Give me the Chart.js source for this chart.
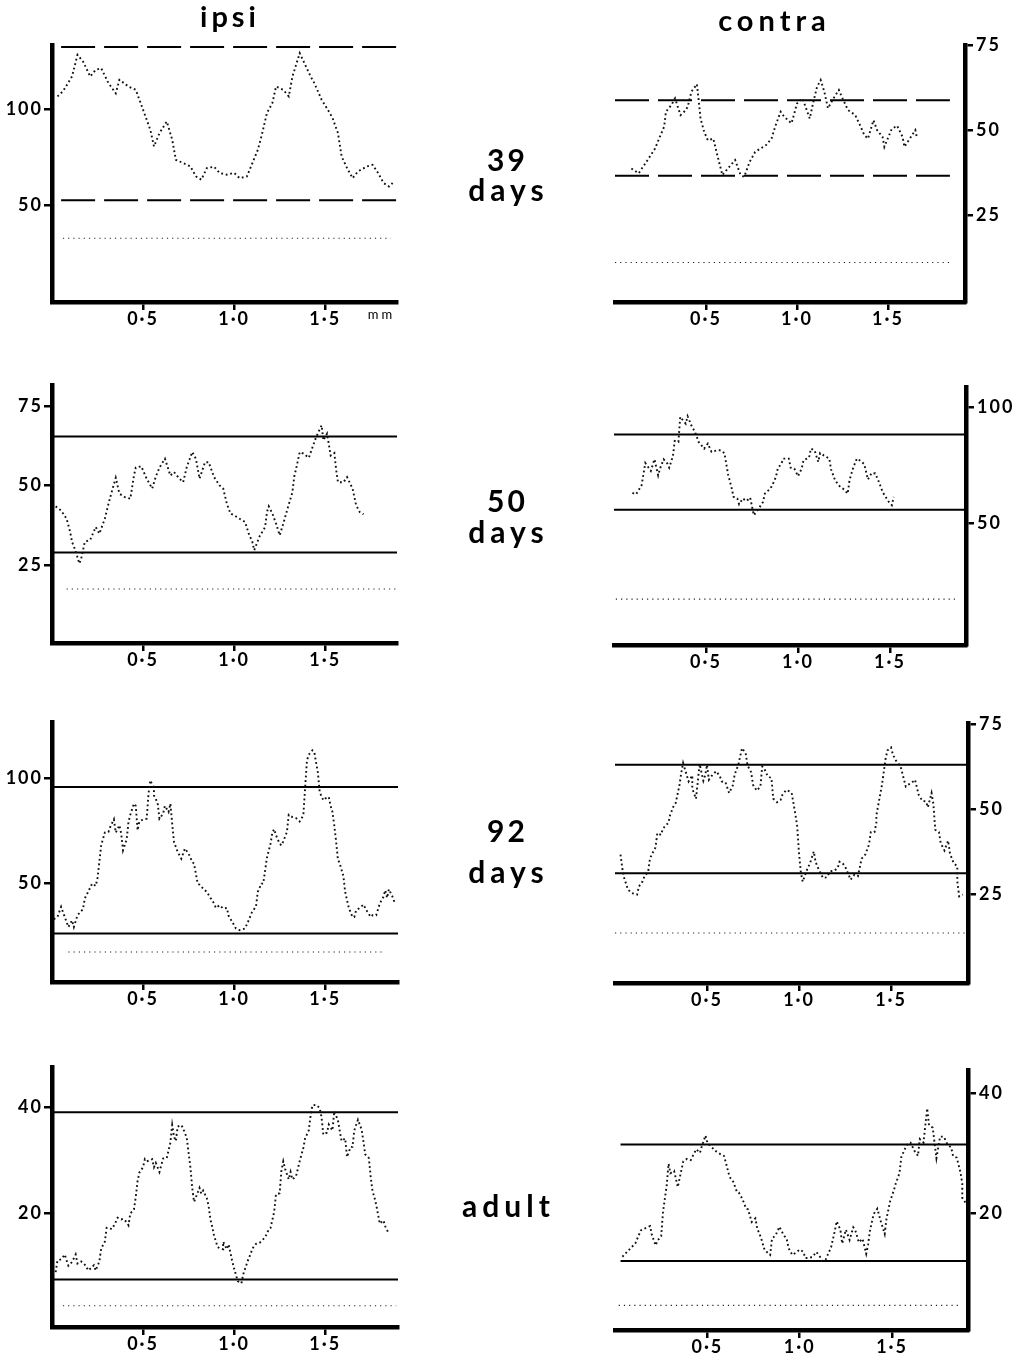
<!DOCTYPE html>
<html><head><meta charset="utf-8">
<script src="https://cdn.jsdelivr.net/npm/chart.js@4"></script>
<style>
html,body{margin:0;padding:0;background:#fff;}
body{width:1014px;height:1353px;position:relative;overflow:hidden;font-family:Lato,"DejaVu Sans",sans-serif;}
canvas{position:absolute;}
.lbl{position:absolute;text-align:center;color:#000;font-weight:700;white-space:nowrap;}
</style></head><body>
<script>
// ---------- data (position in mm, value) ----------
const ipsi39 = [[0.03,106.4],[0.06,109],[0.11,116.7],[0.14,127.9],[0.17,124.5],[0.21,116.7],[0.24,120.2],[0.27,121],[0.31,113.3],[0.35,108],[0.37,115],[0.42,111.5],[0.46,109.8],[0.5,99.5],[0.54,89],[0.56,80.5],[0.59,87.4],[0.63,93.4],[0.66,84],[0.68,73.6],[0.72,71.9],[0.76,70.2],[0.79,65],[0.82,63.3],[0.85,69.3],[0.89,70],[0.92,66.8],[0.96,65.9],[1.0,66.8],[1.03,64.1],[1.07,65],[1.1,71.9],[1.13,78.8],[1.15,85.7],[1.18,97.8],[1.21,103],[1.23,111.5],[1.27,109.8],[1.3,106.4],[1.32,116.7],[1.36,128.8],[1.39,122.7],[1.42,116.7],[1.44,113.3],[1.48,104.7],[1.52,98.6],[1.54,95.2],[1.57,87.4],[1.59,75.3],[1.62,69.3],[1.65,64.1],[1.68,67.6],[1.73,70.2],[1.76,71],[1.79,66.8],[1.82,61.6],[1.85,59.8],[1.87,61.6]];
const contra39 = [[0.09,38.7],[0.13,37.3],[0.16,39.7],[0.19,42.1],[0.22,44.6],[0.25,48.5],[0.27,51],[0.28,55.4],[0.31,57.4],[0.33,59.3],[0.36,54.4],[0.39,55.9],[0.4,57],[0.42,61.3],[0.45,63.5],[0.46,58.6],[0.47,53.4],[0.49,49.5],[0.51,47],[0.54,47.5],[0.56,43.1],[0.59,36.8],[0.62,38.7],[0.66,41.2],[0.69,36.8],[0.71,36.3],[0.74,40.7],[0.77,43.6],[0.8,44.6],[0.83,45.6],[0.86,47.5],[0.88,51],[0.91,55.4],[0.93,53.9],[0.97,52],[1.0,57.8],[1.03,59.3],[1.05,56.4],[1.07,53.4],[1.09,58.3],[1.11,62.7],[1.13,64.7],[1.15,61.3],[1.17,56.4],[1.2,59.3],[1.23,61.8],[1.25,59.3],[1.28,55.9],[1.32,54.4],[1.35,51],[1.37,48.5],[1.39,47.5],[1.42,52.9],[1.44,50],[1.47,48],[1.48,45.1],[1.52,50.3],[1.55,51.3],[1.58,48],[1.59,45.1],[1.62,47.5],[1.65,50],[1.66,47.5]];
const ipsi50 = [[0.02,43.4],[0.05,42.1],[0.08,39.5],[0.1,35.3],[0.11,32.2],[0.13,29.3],[0.15,25.4],[0.16,26.9],[0.18,32.2],[0.21,32.9],[0.24,36.9],[0.26,34.8],[0.29,39.5],[0.31,44.2],[0.33,48.4],[0.35,52.4],[0.37,47.4],[0.4,46.3],[0.43,45.8],[0.45,53.1],[0.46,55.6],[0.49,56],[0.52,52.1],[0.55,49],[0.57,52.8],[0.59,55.6],[0.62,58.4],[0.65,53.1],[0.67,54.2],[0.7,52.1],[0.72,51],[0.74,55.8],[0.77,60.5],[0.79,58.4],[0.81,52.1],[0.84,57.3],[0.86,57.3],[0.89,52.6],[0.92,50],[0.94,49],[0.96,44.2],[0.98,41.1],[1.0,40.6],[1.03,39.5],[1.06,38.5],[1.08,34.8],[1.1,32.2],[1.11,29.6],[1.14,34],[1.17,36.9],[1.18,41.6],[1.19,43.4],[1.21,41.1],[1.23,38],[1.25,34.3],[1.27,38],[1.29,42.1],[1.32,47.9],[1.33,52.8],[1.34,55.2],[1.36,60.5],[1.38,60],[1.41,58.7],[1.43,62],[1.45,65.2],[1.48,68.9],[1.49,64.2],[1.51,66.3],[1.53,59.4],[1.55,60.2],[1.56,54.9],[1.57,51],[1.6,51],[1.62,52.6],[1.65,49],[1.66,46.3],[1.67,43.7],[1.69,41.6],[1.71,40.9]];
const contra50 = [[0.1,63.2],[0.12,62.6],[0.15,66.5],[0.16,71.2],[0.17,76.1],[0.2,72.7],[0.22,77.7],[0.24,70.8],[0.25,73.7],[0.27,77.7],[0.29,75.9],[0.3,74.1],[0.32,79],[0.33,85.6],[0.35,85.2],[0.36,96],[0.39,93.1],[0.4,96.3],[0.42,92.4],[0.44,89.5],[0.46,85.2],[0.49,82.3],[0.51,84.5],[0.53,80.9],[0.56,81.6],[0.58,81.6],[0.6,80.4],[0.62,71.2],[0.64,65.1],[0.65,61.5],[0.67,60.8],[0.68,58.3],[0.7,60.8],[0.72,59.7],[0.74,61.2],[0.76,53.6],[0.78,55.7],[0.81,59.3],[0.82,62.9],[0.85,65.1],[0.86,66.5],[0.88,70.1],[0.89,73.7],[0.91,75.9],[0.92,78],[0.95,78],[0.96,74.1],[0.98,73.7],[1.0,70.4],[1.02,73.7],[1.03,77.3],[1.06,78.4],[1.07,82.3],[1.09,81.6],[1.11,76.6],[1.12,80.4],[1.14,79.4],[1.17,78],[1.18,73.3],[1.2,69],[1.22,66.5],[1.25,64.7],[1.27,62.9],[1.28,68.7],[1.3,74.1],[1.32,78],[1.34,77],[1.36,75.6],[1.38,69],[1.4,71.8],[1.42,71.6],[1.44,67.9],[1.46,63.6],[1.49,59.7],[1.51,57.9],[1.52,61.5]];
const ipsi92 = [[0.01,33],[0.03,34.1],[0.05,38.9],[0.07,34.1],[0.09,29.3],[0.11,32.5],[0.12,29.3],[0.14,34.9],[0.17,37.8],[0.18,42.9],[0.2,46.3],[0.22,50],[0.24,48.9],[0.25,52.7],[0.26,60.3],[0.27,68.2],[0.29,74.3],[0.31,74.6],[0.32,77],[0.34,80.6],[0.35,74.3],[0.37,77.8],[0.38,73.8],[0.39,65.9],[0.41,71.1],[0.42,79.3],[0.43,82.8],[0.45,88.1],[0.46,87],[0.47,75.4],[0.48,79.6],[0.5,80.6],[0.52,80.9],[0.53,92.9],[0.54,99.2],[0.56,95.2],[0.56,92],[0.58,88.5],[0.59,80.9],[0.61,83.3],[0.62,87],[0.64,84.1],[0.65,88.1],[0.66,78.6],[0.67,69.8],[0.69,65.1],[0.71,61.9],[0.73,66.7],[0.75,64.3],[0.77,60.3],[0.78,59.5],[0.8,50],[0.81,49.5],[0.83,47.6],[0.85,46],[0.87,43.2],[0.89,40.5],[0.9,38.4],[0.92,39.7],[0.94,38.1],[0.96,38.4],[0.97,34.6],[0.99,31.7],[1.01,28.6],[1.03,27.8],[1.06,28.6],[1.08,32.5],[1.1,36.8],[1.12,38.9],[1.13,46],[1.15,50],[1.16,50],[1.18,62.2],[1.2,69],[1.21,74.3],[1.22,75.9],[1.23,73],[1.25,69],[1.26,68.2],[1.27,70.1],[1.29,74.6],[1.3,82.8],[1.32,81.7],[1.34,81.2],[1.36,79.6],[1.38,82.5],[1.4,108.7],[1.41,111.4],[1.43,113.5],[1.44,112.7],[1.46,102.9],[1.47,93.6],[1.49,89.7],[1.5,90.5],[1.52,91.3],[1.53,87],[1.54,84.1],[1.55,77.8],[1.56,70.1],[1.57,61.6],[1.58,59.5],[1.6,53.6],[1.61,46],[1.62,42.1],[1.63,38.4],[1.65,34.1],[1.66,34.1],[1.67,37.3],[1.69,38.4],[1.71,40],[1.73,36.8],[1.75,34.1],[1.76,34.9],[1.78,34.9],[1.8,40.5],[1.82,43.7],[1.83,46.8],[1.84,43.2],[1.85,47.3],[1.87,43.7],[1.88,41.3]];
const contra92 = [[0.03,36.6],[0.04,32.4],[0.05,29.7],[0.07,26.3],[0.09,25.3],[0.12,24.8],[0.13,27.2],[0.15,28.7],[0.16,30.2],[0.18,31.5],[0.19,35.4],[0.2,36.6],[0.22,38.7],[0.23,42.9],[0.25,42.4],[0.26,44.2],[0.28,45.4],[0.29,45.9],[0.3,48.3],[0.32,51.1],[0.33,51.8],[0.35,56.9],[0.36,60.6],[0.37,63.5],[0.39,59.9],[0.4,58.1],[0.42,59.9],[0.42,56],[0.44,53],[0.46,63.2],[0.48,58.3],[0.49,59.9],[0.5,63],[0.51,58.6],[0.53,60.1],[0.55,61.1],[0.57,59.6],[0.58,58.1],[0.6,57.9],[0.62,54.7],[0.64,56.9],[0.65,60.1],[0.67,63],[0.69,67.9],[0.71,66.4],[0.72,62.8],[0.74,60.8],[0.75,57.1],[0.77,55.4],[0.79,56.6],[0.8,62.5],[0.81,62],[0.83,59.6],[0.85,59.1],[0.86,53],[0.88,52],[0.9,52.7],[0.91,54.2],[0.93,55.6],[0.95,55.1],[0.96,54.7],[0.98,48.5],[0.99,44.9],[1.0,36.8],[1.01,31.2],[1.02,28.6],[1.04,31.7],[1.06,34.1],[1.08,37.5],[1.09,34.4],[1.11,31.8],[1.13,29.7],[1.15,29.9],[1.17,31.7],[1.19,31.8],[1.21,32.6],[1.22,34.5],[1.24,33.8],[1.25,33.1],[1.27,30.6],[1.28,29.2],[1.3,30.6],[1.32,30.2],[1.34,35.4],[1.36,36.6],[1.38,39.5],[1.39,43.2],[1.41,43.2],[1.42,45.9],[1.42,48.1],[1.44,54],[1.45,56.9],[1.47,64.7],[1.48,67.2],[1.5,68.1],[1.51,66],[1.53,63.9],[1.55,62.8],[1.56,60.8],[1.58,56.6],[1.59,57.1],[1.61,57.6],[1.63,58.6],[1.65,54.2],[1.67,52.4],[1.69,52.2],[1.7,50.5],[1.72,54.7],[1.73,51.4],[1.74,43.9],[1.76,43.2],[1.77,39.9],[1.79,37.8],[1.81,40.7],[1.82,36.9],[1.84,34.1],[1.86,33.1],[1.86,28.7],[1.87,24.3],[1.89,24.8]];
const ipsiAdult = [[0.02,9],[0.03,11.2],[0.05,11.4],[0.07,12.3],[0.09,10.2],[0.11,10.9],[0.13,12.3],[0.14,10.6],[0.16,11],[0.18,10.4],[0.2,9.3],[0.23,10.3],[0.24,9.3],[0.26,11],[0.27,13.4],[0.29,14.7],[0.3,17.3],[0.33,17.1],[0.35,18.4],[0.36,19.2],[0.38,18.9],[0.39,19],[0.41,18.4],[0.42,17.8],[0.43,20],[0.45,20.8],[0.46,23.1],[0.47,26.1],[0.48,27.7],[0.5,28.7],[0.51,30.2],[0.52,29.8],[0.54,30],[0.55,30.2],[0.56,28.7],[0.57,29.5],[0.59,27.8],[0.61,30.3],[0.63,30.4],[0.65,33.3],[0.66,36.6],[0.67,34.4],[0.68,33.6],[0.69,36.3],[0.71,36.6],[0.72,36],[0.74,34.2],[0.75,31.4],[0.76,28.7],[0.77,24.8],[0.78,22.2],[0.8,23.9],[0.81,24.8],[0.82,23.7],[0.83,24.3],[0.85,22.9],[0.86,21.4],[0.87,18.9],[0.88,17.5],[0.89,15.8],[0.91,13.7],[0.92,13.5],[0.94,13.3],[0.94,14.7],[0.96,13.3],[0.97,14.2],[0.99,11],[1.0,9.7],[1.02,7.3],[1.04,6.9],[1.05,8.6],[1.08,11.6],[1.09,12.3],[1.1,13.4],[1.12,14.3],[1.14,14.5],[1.16,15.2],[1.17,15.5],[1.19,17],[1.2,17.3],[1.22,20.3],[1.23,23.6],[1.25,23.8],[1.26,28.1],[1.27,29.8],[1.28,28.4],[1.3,26.4],[1.31,27.8],[1.32,26.4],[1.34,27],[1.36,29.8],[1.38,32.3],[1.39,34.1],[1.41,35.6],[1.42,38.4],[1.43,40.3],[1.45,40.4],[1.47,39.8],[1.48,38.1],[1.49,34.8],[1.51,35.2],[1.52,36.7],[1.54,35.6],[1.55,39.2],[1.57,37.5],[1.59,33.6],[1.61,34.1],[1.62,30.6],[1.64,32.5],[1.65,32.5],[1.66,35.6],[1.68,37.6],[1.7,35.8],[1.71,33.6],[1.72,31.1],[1.74,30.4],[1.75,26.9],[1.76,24.2],[1.77,23.1],[1.78,21.7],[1.8,18.1],[1.82,18.7],[1.83,17.6],[1.85,16.2]];
const contraAdult = [[0.04,12.8],[0.09,14.4],[0.11,15],[0.14,17.2],[0.16,17.5],[0.19,17.9],[0.2,16.4],[0.22,14.7],[0.23,15.5],[0.25,16.2],[0.26,20.3],[0.28,24.7],[0.29,28.3],[0.3,26.7],[0.32,27.1],[0.34,24.4],[0.35,25.9],[0.37,28.7],[0.39,29.1],[0.41,28.9],[0.43,30.1],[0.44,30.7],[0.46,30.1],[0.47,31.2],[0.49,33],[0.5,31.8],[0.52,31.2],[0.54,30.5],[0.55,30.3],[0.57,29.9],[0.59,29.6],[0.6,28.5],[0.62,26.1],[0.64,25.3],[0.66,23.6],[0.67,23.5],[0.69,22.4],[0.71,20.8],[0.72,20.7],[0.74,18.6],[0.76,19.2],[0.77,17.5],[0.79,16],[0.81,13.9],[0.84,13.1],[0.85,15.8],[0.87,16.4],[0.88,17.1],[0.89,17.8],[0.91,16.6],[0.93,15.7],[0.94,14.2],[0.96,13.1],[0.98,13.5],[1.0,14],[1.02,13.6],[1.03,12.6],[1.05,12.6],[1.07,12.8],[1.09,13.6],[1.11,12.8],[1.12,12.1],[1.14,12.3],[1.17,14.4],[1.19,17.1],[1.2,18.7],[1.22,17.3],[1.23,15],[1.25,17.3],[1.27,15.6],[1.29,17.7],[1.3,17.3],[1.32,15.2],[1.34,15.8],[1.36,13.3],[1.37,14.8],[1.38,17.1],[1.4,19.9],[1.42,20.8],[1.44,18.6],[1.46,16.6],[1.47,19.2],[1.49,22.1],[1.51,23.9],[1.52,25],[1.54,26.7],[1.55,29.4],[1.57,30.8],[1.59,31.8],[1.6,31.8],[1.62,30.5],[1.64,29.6],[1.65,32.4],[1.67,31.8],[1.69,37.5],[1.7,34.7],[1.72,34.3],[1.74,29.2],[1.76,32.8],[1.78,32.8],[1.8,31.5],[1.82,31],[1.83,29.6],[1.85,29.3],[1.87,26.9],[1.88,25],[1.88,22.6],[1.9,21.7]];

// reference levels (upper, lower, baseline) per panel, in panel order
const panelNames = ['ipsi39','contra39','ipsi50','contra50','ipsi92','contra92','ipsiAdult','contraAdult'];
const upperLevels = [132, 58.8, 65.4, 88.4, 96, 63, 39, 31.5];
const lowerLevels = [52.6, 36.6, 28.9, 56, 26.2, 31.1, 7.6, 12.1];
const baseLevels  = [33, 11.1, 17.4, 17.4, 17.4, 13.5, 2.7, 4.7];

// tick labels
const xTickValues = [0.5, 1.0, 1.5];
const xTickLabels = ['0\u00b75', '1\u00b70', '1\u00b75'];
const ipsi39Ticks = [50, 100];
const contra39Ticks = [25, 50, 75];
const ipsi50Ticks = [25, 50, 75];
const contra50Ticks = [50, 100];
const ipsi92Ticks = [50, 100];
const contra92Ticks = [25, 50, 75];
const ipsiAdultTicks = [20, 40];
const contraAdultTicks = [20, 40];

// column / row labels
const columnLabels = ['ipsi', 'contra'];
const ageLabels = [['39','days'], ['50','days'], ['92','days'], ['adult']];
const unitLabel = 'mm';

// ---------- layout ----------
const panels = [
  {series: ipsi39, ticks: ipsi39Ticks, side:'left', area:[52,45,397,302], y:[0,133], xMax:1.894, dashed:true,
   refSpan:[0.05,1.894], baseSpan:[0.06,1.86]},
  {series: contra39, ticks: contra39Ticks, side:'right', area:[615,45,965,302], y:[-0.5,75], xMax:1.923, dashed:true,
   refSpan:[0,1.84], baseSpan:[0,1.85]},
  {series: ipsi50, ticks: ipsi50Ticks, side:'left', area:[52,385,397,643], y:[0.4,81.6], xMax:1.894, dashed:false,
   refSpan:[0,1.894], baseSpan:[0.08,1.894]},
  {series: contra50, ticks: contra50Ticks, side:'right', area:[614,387,966,645], y:[-2.4,108.9], xMax:1.913, dashed:false,
   refSpan:[0,1.913], baseSpan:[0.01,1.87]},
  {series: ipsi92, ticks: ipsi92Ticks, side:'left', area:[52,722,398,982], y:[3.1,127], xMax:1.9, dashed:false,
   refSpan:[0,1.9], baseSpan:[0.09,1.82]},
  {series: contra92, ticks: contra92Ticks, side:'right', area:[615,723,968,983], y:[-1.2,75.3], xMax:1.918, dashed:false,
   refSpan:[0,1.918], baseSpan:[0,1.9]},
  {series: ipsiAdult, ticks: ipsiAdultTicks, side:'left', area:[52,1067,398,1327], y:[-1.3,47.5], xMax:1.9, dashed:false,
   refSpan:[0,1.9], baseSpan:[0.06,1.89]},
  {series: contraAdult, ticks: contraAdultTicks, side:'right', area:[615,1070,968,1330], y:[0.6,43.9], xMax:1.911, dashed:false,
   refSpan:[0.03,1.911], baseSpan:[0.02,1.87]}
];

const spacingPlugin = {
  id: 'spacing',
  beforeUpdate(c) { c.ctx.letterSpacing = '2px'; },
  beforeDraw(c) { c.ctx.letterSpacing = '2px'; }
};

const tickFont = {family: 'Lato', size: 18, weight: 'bold'};

function makePanel(p, i) {
  const [l, t, r, b] = p.area;
  const padT = 22, padSide = 14, xH = 26, yW = 60;
  let cLeft, cWidth, pad, yWidth;
  if (p.side === 'left') {
    cLeft = 0; cWidth = r + padSide;
    pad = {left: 0, right: padSide};
    yWidth = l;
  } else {
    cLeft = l - padSide; cWidth = (r + yW) - cLeft;
    pad = {left: padSide, right: 0};
    yWidth = yW;
  }
  const cTop = t - padT;
  const cHeight = b + xH - cTop;
  pad.top = padT; pad.bottom = 0;

  const cv = document.createElement('canvas');
  cv.width = cWidth; cv.height = cHeight;
  cv.style.left = cLeft + 'px'; cv.style.top = cTop + 'px';
  cv.style.width = cWidth + 'px'; cv.style.height = cHeight + 'px';
  document.body.appendChild(cv);

  const line = (a, bb, v) => [{x: a, y: v}, {x: bb, y: v}];
  const refDash = p.dashed ? [34, 9] : [];

  new Chart(cv.getContext('2d'), {
    type: 'line',
    data: {
      datasets: [
        {label: panelNames[i], data: p.series.map(([x, y]) => ({x, y})), borderColor: '#111', borderWidth: 1.9,
         borderDash: [1.8, 2.8], pointRadius: 0, tension: 0, fill: false, clip: false},
        {label: 'upper', data: line(p.refSpan[0], p.refSpan[1], upperLevels[i]), borderColor: '#000', borderWidth: 2,
         borderDash: refDash, pointRadius: 0, clip: false},
        {label: 'lower', data: line(p.refSpan[0], p.refSpan[1], lowerLevels[i]), borderColor: '#000', borderWidth: 2,
         borderDash: refDash, pointRadius: 0, clip: false},
        {label: 'base', data: line(p.baseSpan[0], p.baseSpan[1], baseLevels[i]), borderColor: '#222', borderWidth: 1.1,
         borderDash: [1.2, 4], pointRadius: 0, clip: false}
      ]
    },
    options: {
      responsive: false, animation: false, devicePixelRatio: 1,
      layout: {padding: pad},
      plugins: {legend: {display: false}, tooltip: {enabled: false}},
      scales: {
        x: {
          type: 'linear', position: 'bottom', min: 0, max: p.xMax,
          afterBuildTicks: s => { s.ticks = xTickValues.map(v => ({value: v})); },
          afterFit: s => { s.height = xH; },
          ticks: {autoSkip: false, maxRotation: 0, padding: -2, color: '#000', font: tickFont,
                  callback: (v, idx) => xTickLabels[idx]},
          grid: {display: true, drawOnChartArea: false, drawTicks: true, tickLength: 8, lineWidth: 2.5, color: '#000'},
          border: {display: true, width: 4.5, color: '#000'}
        },
        y: {
          type: 'linear', position: p.side, min: p.y[0], max: p.y[1],
          afterBuildTicks: s => { s.ticks = p.ticks.map(v => ({value: v})); },
          afterFit: s => { s.width = yWidth; },
          ticks: {autoSkip: false, padding: p.side === 'right' ? 3 : 1, color: '#000', font: tickFont,
                  callback: (v) => String(v)},
          grid: {display: true, drawOnChartArea: false, drawTicks: true, tickLength: 8, lineWidth: 2.5, color: '#000'},
          border: {display: true, width: 4.5, color: '#000'}
        }
      }
    },
    plugins: [spacingPlugin]
  });
}

panels.forEach(makePanel);

// ---------- text labels ----------
function label(text, cx, baseline, size, spacing, weight) {
  const d = document.createElement('div');
  d.className = 'lbl';
  d.textContent = text;
  d.style.fontSize = size + 'px';
  d.style.lineHeight = size + 'px';
  d.style.letterSpacing = spacing + 'px';
  d.style.fontWeight = weight || 700;
  d.style.width = '300px';
  d.style.left = (cx - 150 + spacing / 2) + 'px';
  d.style.top = (baseline - 0.887 * size) + 'px';
  document.body.appendChild(d);
}
label(columnLabels[0], 228, 27, 29, 4);
label(columnLabels[1], 772, 31, 29, 5);
const ageCenter = 506;
const ageBaselines = [[171, 201], [512, 543], [842, 883], [1217]];
ageLabels.forEach((lines, k) => {
  lines.forEach((txt, j) => label(txt, ageCenter, ageBaselines[k][j], 30, txt.length > 2 ? 5 : 3));
});
label(unitLabel, 380, 320, 13, 3, 400);
</script>
</body></html>
